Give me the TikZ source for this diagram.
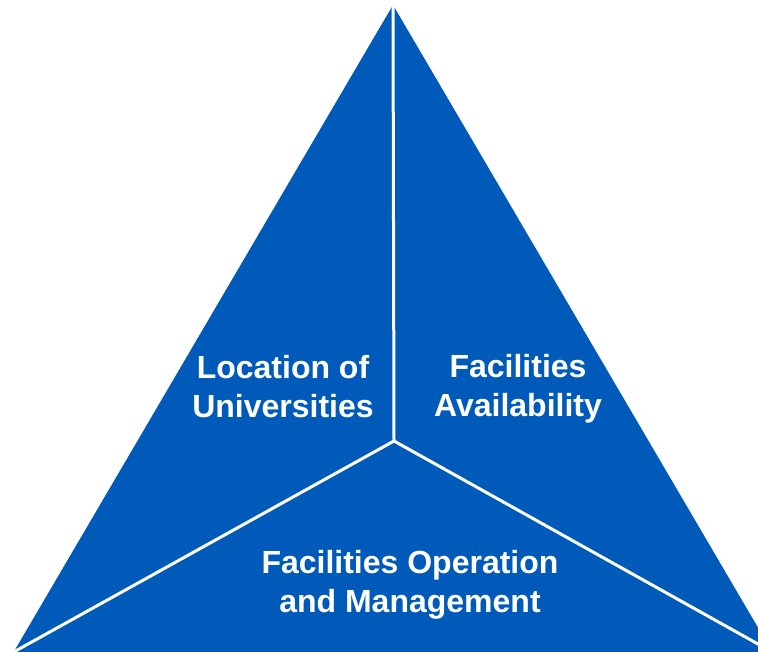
\documentclass[tikz,border=0pt]{standalone}
\usepackage{fontspec}
\setmainfont{Liberation Sans}
\definecolor{pyrblue}{RGB}{0,90,186}
\begin{document}
\begin{tikzpicture}[x=1pt,y=1pt,
  divider/.style={draw=white,line width=3pt},
  lbl/.style={text=white,font=\bfseries\fontsize{32}{39}\selectfont,align=center}]
\useasboundingbox (0,0) rectangle (758,652);
\clip (0,0) rectangle (758,652);
\coordinate (A) at (393,647);
\coordinate (BL) at (13.7,0);
\coordinate (BR) at (772.3,0);
\coordinate (C) at (394,211);
\fill[pyrblue] (A) -- (BR) -- (BL) -- cycle;
\draw[divider] (A) -- (C);
\draw[divider] (C) -- (BL);
\draw[divider] (C) -- (BR);
\node[lbl] (loc) at (283,265) {Location of\\Universities};
\node[lbl] (fac) at (518,263) {Facilities\\Availability};
\node[lbl] (ops) at (410,67) {Facilities Operation\\and Management};
\end{tikzpicture}
\end{document}
